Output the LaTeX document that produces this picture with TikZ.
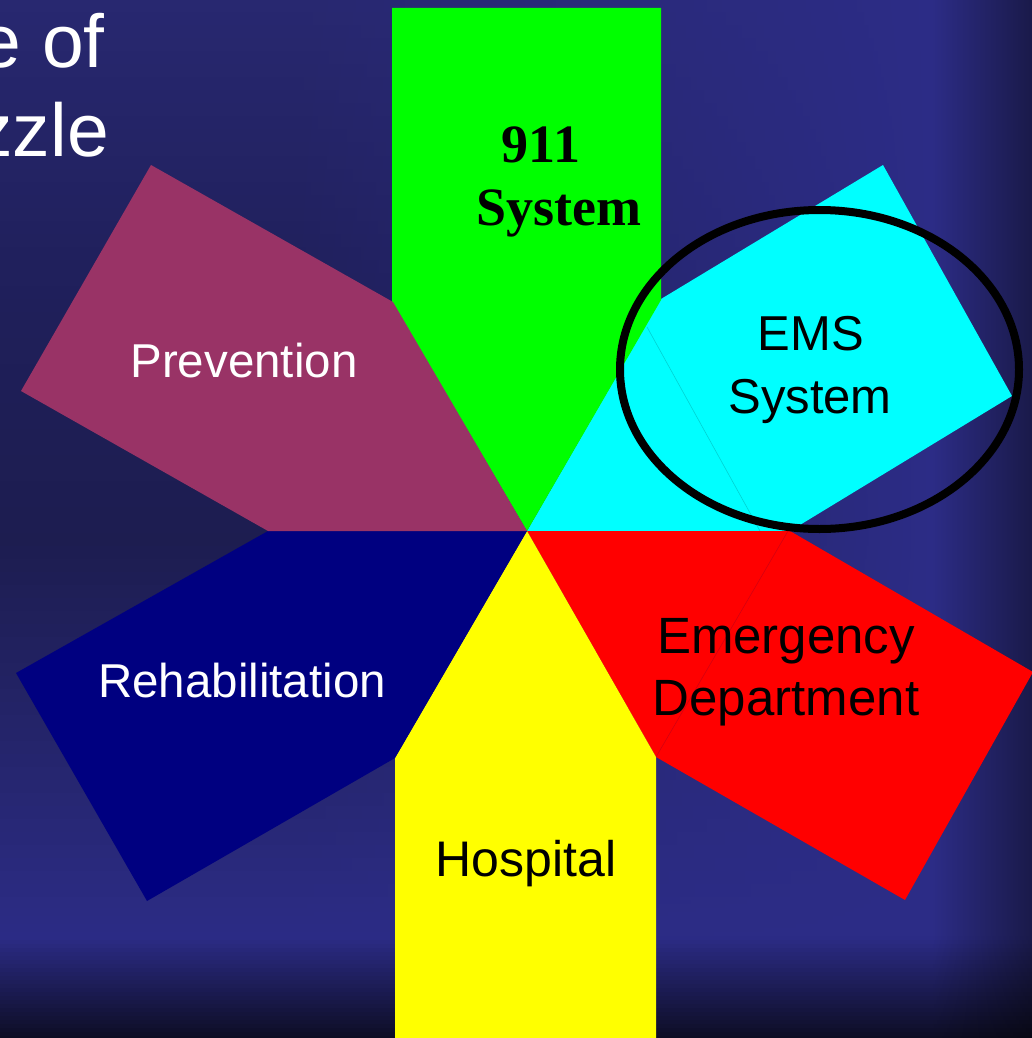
\documentclass[tikz,border=0pt]{standalone}
\usepackage{fontspec}
\setmainfont{Liberation Sans}
\newfontfamily\serifface{Liberation Serif}
\definecolor{pcgreen}{RGB}{0,255,0}
\definecolor{pccyan}{RGB}{0,255,255}
\definecolor{pcred}{RGB}{255,0,0}
\definecolor{pcyellow}{RGB}{255,255,0}
\definecolor{pcnavy}{RGB}{0,0,128}
\definecolor{pcplum}{RGB}{153,51,102}
\tikzset{
  piece/.style={line width=0pt, draw=none},
  seam/.style={line width=0.6pt, opacity=0.35},
  lblW/.style={text=white, inner sep=0pt, anchor=base},
  lblK/.style={text=black, inner sep=0pt, anchor=base},
  sfl/.style={font=\fontsize{#1}{#1}\selectfont},
  bgband/.style={inner sep=0pt, outer sep=0pt, anchor=north west},
}
% one background band: #1 = top y (px), #2 = height (px)
\newcommand\mybgband[2]{%
  \pgfmathsetmacro\yc{#1+(#2-1)/2}%
  \pgfmathsetmacro\rr{(\yc<300 ? 40-0.03*\yc : (\yc<540 ? 31-(\yc-300)*0.008333 : (\yc<910 ? 29+(\yc-540)*0.037838 : (\yc<938 ? 43 : 43-(\yc-938)*0.3))))/255}%
  \pgfmathsetmacro\bb{(\yc<300 ? 112-\yc*0.073333 : (\yc<540 ? 90-(\yc-300)*0.041667 : (\yc<910 ? 80+(\yc-540)*0.135135 : (\yc<938 ? 130+(\yc-910)*0.107143 : 133-(\yc-938)*0.97))))/255}%
  \pgfmathsetmacro\rb{\yc<938 ? 44/255 : \rr}%
  \pgfmathsetmacro\bbb{\yc<938 ? 134/255 : \bb}%
  \pgfmathsetmacro\rs{0.59*\rb}%
  \pgfmathsetmacro\bs{0.55*\bbb}%
  \edef\mkshade{\noexpand\pgfdeclarehorizontalshading{bandsh#1}{#2pt}{rgb(0pt)=(\rr,\rr,\bb); rgb(300pt)=(\rr,\rr,\bb); rgb(932pt)=(\rb,\rb,\bbb); rgb(1032pt)=(\rs,\rs,\bs)}}%
  \mkshade
  \node[bgband] (bg#1) at (0,#1) {\pgfuseshading{bandsh#1}};%
}
\begin{document}
\begin{tikzpicture}[x=1pt,y=-1pt]
\useasboundingbox (0,0) rectangle (1032,1038);
\clip (0,0) rectangle (1032,1038);
% background
\foreach \yy in {0,13,...,897} {\mybgband{\yy}{14}}
\foreach \yy in {900,904,...,1036} {\mybgband{\yy}{5}}
% title fragments
\node[lblW, anchor=base east, sfl=75] (t1) at (105,68) {e of};
\node[lblW, anchor=base east, sfl=75] (t2) at (109,157) {zzle};
% puzzle pieces
\fill[pccyan, piece] (527,531) -- (661,299) -- (883,165) -- (1012,396) -- (790,531) -- cycle;
\fill[pcgreen, piece] (527,531) -- (392,302) -- (392,8) -- (661,8) -- (661,300) -- cycle;
\fill[pcred, piece] (527,531) -- (790,531) -- (1033,672) -- (905,900) -- (656,757) -- cycle;
\fill[pcyellow, piece] (527,531) -- (656,757) -- (656,1040) -- (395,1040) -- (395,758) -- cycle;
\fill[pcnavy, piece] (527,531) -- (395,758) -- (147,901) -- (16,673) -- (268,531) -- cycle;
\fill[pcplum, piece] (527,531) -- (268,531) -- (21,391) -- (151,165) -- (393,302) -- cycle;
% seams
\coordinate (s1) at (647,327);
\coordinate (s2) at (760,531);
\coordinate (s3) at (788,531);
\coordinate (s4) at (656,757);
\draw[seam, teal] (s1) -- (s2);
\draw[seam, purple!70!black] (s3) -- (s4);
% labels
\node[lblK, font=\fontsize{54}{54}\selectfont\serifface\bfseries] (n911) at (541,162) {911};
\node[lblK, font=\fontsize{54}{54}\selectfont\serifface\bfseries] (n911b) at (559,225) {System};
\node[lblW, sfl=47.5] (prev) at (244,377) {Prevention};
\node[lblW, sfl=47.5] (rehab) at (242,697) {Rehabilitation};
\node[lblK, sfl=49] (ems1) at (811,350) {EMS};
\node[lblK, sfl=49] (ems2) at (810,413) {System};
\node[lblK, sfl=51] (ed1) at (786,653) {Emergency};
\node[lblK, sfl=51] (ed2) at (786,715) {Department};
\node[lblK, sfl=50] (hosp) at (526,876) {Hospital};
% highlight ellipse
\draw[black, line width=8pt] (819.5,369.5) ellipse [x radius=199.5, y radius=159.5];
\end{tikzpicture}
\end{document}
